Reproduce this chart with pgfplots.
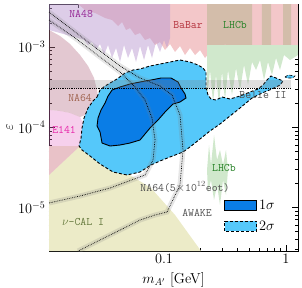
\documentclass[border=0pt]{standalone}
\usepackage{pgfplots}
\pgfplotsset{compat=1.18}
\definecolor{babar}{RGB}{243,199,201}
\definecolor{nafe}{RGB}{187,155,209}
\definecolor{lhcbtan}{RGB}{211,189,170}
\definecolor{lhcbgreen}{RGB}{208,232,204}
\definecolor{nasf}{RGB}{185,118,140}
\definecolor{eoff}{RGB}{230,120,200}
\definecolor{nucal}{RGB}{236,235,200}
\definecolor{onesig}{RGB}{10,125,230}
\definecolor{twosig}{RGB}{85,200,250}
\definecolor{labpurple}{RGB}{150,40,150}
\definecolor{labred}{RGB}{180,50,60}
\definecolor{labgreen}{RGB}{40,130,40}
\definecolor{labbrown}{RGB}{160,100,80}
\definecolor{labmag}{RGB}{230,40,170}
\definecolor{labgray}{RGB}{80,80,80}
\definecolor{labolive}{RGB}{100,120,60}
\begin{document}
\begin{tikzpicture}
\begin{axis}[
  at={(0,0)}, anchor=south west,
  scale only axis, width=249bp, height=247bp,
  xmode=log, ymode=log,
  xmin=0.0114, xmax=1.254, ymin=2.86e-6, ymax=3.437e-3,
  axis line style={line width=0.9bp},
  tick style={line width=0.7bp, black},
  major tick length=6bp, minor tick length=3.5bp,
  tick align=inside,
  xtick={0.1,1}, xticklabels={$0.1$,$1$},
  minor xtick={0.02,0.03,0.04,0.05,0.06,0.07,0.08,0.09,0.2,0.3,0.4,0.5,0.6,0.7,0.8,0.9},
  ytick={1e-5,1e-4,1e-3},
  minor ytick={3e-6,4e-6,5e-6,6e-6,7e-6,8e-6,9e-6,2e-5,3e-5,4e-5,5e-5,6e-5,7e-5,8e-5,9e-5,2e-4,3e-4,4e-4,5e-4,6e-4,7e-4,8e-4,9e-4,2e-3,3e-3},
  tick label style={font=\fontsize{14.5}{16}\selectfont},
  xlabel={$m_{A'}$ [GeV]}, ylabel={$\varepsilon$},
  label style={font=\fontsize{14.5}{16}\selectfont},
  xlabel style={at={(axis description cs:0.5,-0.117)}, anchor=center},
  ylabel style={at={(axis description cs:-0.157,0.5)}, anchor=center},
  legend style={draw=none, fill=none, at={(0.703,0.215)}, anchor=north west,
    row sep=6bp, inner xsep=0bp, inner ysep=0bp,
    font=\fontsize{14.5}{16}\selectfont},
  legend cell align=left,
  legend image code/.code={\draw[#1] (0bp,-5bp) rectangle (32bp,5bp);},
]
% nu-CAL I
\addplot[draw=none, fill=nucal, forget plot] coordinates {
(0.01141,5.828e-5) (0.01973,5.828e-5) (0.02988,4.130e-5) (0.04789,2.763e-5) (0.07823,1.745e-5) (0.1231,8.038e-6) (0.2010,2.86e-6) (0.01141,2.86e-6)} -- cycle;
% E141
\addplot[draw=none, fill=eoff, fill opacity=0.35, forget plot] coordinates {
(0.01141,1.639e-4) (0.01405,1.592e-4) (0.01697,1.503e-4) (0.02049,1.340e-4) (0.02209,1.065e-4) (0.02209,7.995e-5) (0.02049,5.828e-5) (0.01543,3.900e-5) (0.01141,2.535e-5)} -- cycle;
% NA64 existing
\addplot[draw=none, fill=nasf, fill opacity=0.4, forget plot] coordinates {
(0.01141,1.630e-3) (0.01405,1.372e-3) (0.01697,1.090e-3) (0.02049,7.947e-4) (0.02382,5.795e-4) (0.02668,4.106e-4) (0.02823,2.909e-4) (0.02877,2.183e-4) (0.02719,1.735e-4) (0.02382,1.461e-4) (0.02049,1.340e-4) (0.01697,1.503e-4) (0.01405,1.592e-4) (0.01141,1.639e-4)} -- cycle;
% BaBar
\addplot[draw=none, fill=babar, forget plot] coordinates {
(0.01973,3.437e-3) (0.02252,2.892e-3) (0.02719,2.653e-3) (0.03284,2.299e-3) (0.03748,2.171e-3) (0.04198,1.827e-3) (0.04524,2.049e-3) (0.04881,1.630e-3) (0.05263,1.725e-3) (0.05784,1.411e-3) (0.06356,1.495e-3) (0.06986,1.223e-3) (0.07677,1.295e-3) (0.08437,1.059e-3) (0.09273,1.154e-3) (0.1019,9.175e-4) (0.1120,1.090e-3) (0.1231,8.664e-4) (0.1352,1.029e-3) (0.1486,7.947e-4) (0.1633,9.716e-4) (0.1795,7.947e-4) (0.1973,9.175e-4) (0.2168,7.292e-4) (0.2382,8.664e-4) (0.2877,9.175e-4) (0.4198,9.175e-4) (0.5570,7.947e-4) (0.6356,6.886e-4) (0.7393,9.716e-4) (0.8929,7.947e-4) (1.0784,9.175e-4) (1.254,9.175e-4) (1.254,3.437e-3)} -- cycle;
% LHCb prompt (tan)
\addplot[draw=none, fill=lhcbtan, forget plot] coordinates {
(0.2252,3.437e-3) (0.5264,3.437e-3) (0.5264,9.175e-4) (0.4613,1.029e-3) (0.4198,8.664e-4) (0.3819,1.059e-3) (0.3475,9.175e-4) (0.3162,1.090e-3) (0.2877,8.664e-4) (0.2618,1.029e-3) (0.2382,7.947e-4) (0.2252,9.175e-4)} -- cycle;
\addplot[draw=none, fill=lhcbtan, forget plot] coordinates {
(0.6356,3.437e-3) (0.7536,3.437e-3) (0.7536,9.716e-4) (0.6855,8.664e-4) (0.6356,1.0e-3)} -- cycle;
\addplot[draw=none, fill=lhcbtan, forget plot] coordinates {
(0.9450,3.437e-3) (1.099,3.437e-3) (1.099,1.059e-3) (0.9450,9.716e-4)} -- cycle;
% LHCb green spikes
\addplot[draw=none, fill=lhcbgreen, forget plot] coordinates {
(0.2252,1.059e-3) (0.2252,2.183e-4) (0.2382,5.165e-4) (0.2522,2.062e-4) (0.2668,4.477e-4) (0.2823,1.947e-4) (0.2988,4.880e-4) (0.3162,2.183e-4) (0.3346,5.165e-4) (0.3609,2.520e-4) (0.3892,5.470e-4) (0.4198,2.909e-4) (0.4525,5.965e-4) (0.4882,3.359e-4) (0.5264,6.501e-4) (0.5677,5.165e-4) (0.6121,6.886e-4) (0.6601,3.877e-4) (0.7118,6.501e-4) (0.7677,4.477e-4) (0.8279,7.292e-4) (0.8929,5.165e-4) (0.9630,7.947e-4) (1.0784,6.886e-4) (1.254,7.947e-4) (1.254,1.059e-3)} -- cycle;
\addplot[draw=none, fill=lhcbgreen, forget plot] coordinates {
(0.2252,2.926e-5) (0.2338,5.999e-5) (0.2427,3.379e-5) (0.2570,7.995e-5) (0.2719,3.900e-5) (0.2877,5.196e-5) (0.3045,3.379e-5) (0.3221,5.196e-5) (0.3346,2.926e-5) (0.3221,1.428e-5) (0.3045,2.196e-5) (0.2877,1.071e-5) (0.2719,1.902e-5) (0.2570,1.237e-5) (0.2427,2.196e-5) (0.2294,1.556e-5)} -- cycle;
% NA48
\addplot[draw=none, fill=nafe, fill opacity=0.5, forget plot] coordinates {
(0.01141,3.437e-3) (0.1120,3.437e-3) (0.1120,1.295e-3) (0.1058,9.716e-4) (0.1,1.223e-3) (0.09273,8.664e-4) (0.08598,1.154e-3) (0.07970,7.292e-4) (0.07392,1.059e-3) (0.06857,6.886e-4) (0.06356,1.029e-3) (0.05894,6.501e-4) (0.05464,9.716e-4) (0.05068,7.292e-4) (0.04699,1.059e-3) (0.04357,6.501e-4) (0.04042,9.716e-4) (0.03748,7.292e-4) (0.03475,1.059e-3) (0.03222,7.947e-4) (0.02988,1.090e-3) (0.02771,9.175e-4) (0.02569,1.154e-3) (0.02382,1.059e-3) (0.02209,1.223e-3) (0.01973,1.295e-3) (0.01697,1.372e-3) (0.01405,1.495e-3) (0.01141,1.630e-3)} -- cycle;
% 2 sigma
\addplot[draw=black, densely dashed, line width=0.9bp, fill=twosig, forget plot] coordinates {
(0.02823,2.379e-4) (0.02988,2.909e-4) (0.03284,3.264e-4) (0.03609,3.557e-4) (0.04118,3.990e-4) (0.04789,4.741e-4) (0.05569,5.165e-4) (0.06356,5.317e-4) (0.07677,5.795e-4) (0.09273,6.138e-4) (0.1120,6.501e-4) (0.1352,6.886e-4) (0.1633,6.501e-4) (0.1900,5.965e-4) (0.2088,5.470e-4) (0.2210,4.880e-4) (0.2210,3.082e-4) (0.2294,2.520e-4) (0.2427,2.246e-4) (0.2668,2.183e-4) (0.2988,2.379e-4) (0.3475,2.246e-4) (0.4198,2.449e-4) (0.5070,2.747e-4) (0.5895,2.995e-4) (0.6478,3.359e-4) (0.6988,3.877e-4) (0.7536,4.350e-4) (0.8279,4.106e-4) (0.9450,3.767e-4) (0.8929,3.359e-4) (0.7677,2.995e-4) (0.6356,2.669e-4) (0.5264,2.312e-4) (0.4198,1.735e-4) (0.3475,1.379e-4) (0.2877,1.096e-4) (0.2382,8.966e-5) (0.1973,7.127e-5) (0.1633,5.664e-5) (0.1431,4.907e-5) (0.1120,4.251e-5) (0.09273,3.790e-5) (0.07823,3.379e-5) (0.06356,2.763e-5) (0.04974,2.535e-5) (0.03820,2.763e-5) (0.02988,3.477e-5) (0.02474,4.375e-5) (0.02127,5.196e-5) (0.02010,5.828e-5) (0.02088,7.335e-5) (0.02127,9.772e-5) (0.02209,1.302e-4) (0.02382,1.735e-4) (0.02618,2.122e-4)} -- cycle;
\addplot[draw=black, densely dashed, line width=0.6bp, fill=twosig, forget plot] coordinates {
(0.9813,4.226e-4) (1.0421,4.477e-4) (1.185,4.350e-4) (1.132,4.106e-4) (1.020,4.106e-4)} -- cycle;
% 1 sigma
\addplot[draw=black, line width=0.9bp, fill=onesig, forget plot] coordinates {
(0.03475,2.449e-4) (0.03748,2.909e-4) (0.04357,3.171e-4) (0.05263,3.457e-4) (0.06356,3.661e-4) (0.07823,3.877e-4) (0.09449,4.106e-4) (0.1141,4.106e-4) (0.1302,3.661e-4) (0.1378,3.082e-4) (0.1486,2.594e-4) (0.1514,2.312e-4) (0.1352,2.062e-4) (0.1185,1.947e-4) (0.1019,1.547e-4) (0.08928,1.229e-4) (0.07677,9.772e-5) (0.06986,8.228e-5) (0.06356,6.926e-5) (0.05263,6.353e-5) (0.04357,5.999e-5) (0.03609,5.828e-5) (0.03103,6.353e-5) (0.02988,8.713e-5) (0.02823,1.035e-4) (0.02877,1.302e-4) (0.03045,1.639e-4) (0.03284,2.003e-4)} -- cycle;
% Belle II band
\addplot[draw=none, fill=gray, fill opacity=0.25, forget plot] coordinates {
(0.01141,3.082e-4) (1.099,3.082e-4) (1.099,3.877e-4) (0.01141,3.877e-4)} -- cycle;
\addplot[black, densely dotted, line width=0.8bp, forget plot] coordinates {(0.01141,3.082e-4) (1.099,3.082e-4)};
% NA64 5e12 eot projection
\addplot[gray, opacity=0.2, line width=5bp, forget plot] coordinates {
(0.01141,2.171e-3) (0.01865,1.295e-3) (0.02988,7.504e-4) (0.04357,4.880e-4) (0.05784,3.171e-4) (0.06986,2.183e-4) (0.07970,1.302e-4) (0.08437,6.926e-5) (0.08124,3.900e-5) (0.06986,2.535e-5) (0.03609,1.745e-5) (0.02049,1.387e-5) (0.01141,1.135e-5)};
\addplot[black, densely dotted, line width=0.7bp, forget plot] coordinates {
(0.01141,2.171e-3) (0.01865,1.295e-3) (0.02988,7.504e-4) (0.04357,4.880e-4) (0.05784,3.171e-4) (0.06986,2.183e-4) (0.07970,1.302e-4) (0.08437,6.926e-5) (0.08124,3.900e-5) (0.06986,2.535e-5) (0.03609,1.745e-5) (0.02049,1.387e-5) (0.01141,1.135e-5)};
% AWAKE projection
\addplot[gray, opacity=0.2, line width=5bp, forget plot] coordinates {
(0.01141,2.731e-3) (0.01865,1.538e-3) (0.02988,8.915e-4) (0.04357,5.795e-4) (0.06356,4.106e-4) (0.09273,3.264e-4) (0.1163,2.520e-4) (0.1352,1.419e-4) (0.1431,5.196e-5) (0.1352,1.902e-5) (0.1058,8.760e-6) (0.08437,8.038e-6) (0.06356,6.965e-6) (0.03609,4.526e-6) (0.01973,2.86e-6)};
\addplot[black, densely dotted, line width=0.7bp, forget plot] coordinates {
(0.01141,2.731e-3) (0.01865,1.538e-3) (0.02988,8.915e-4) (0.04357,5.795e-4) (0.06356,4.106e-4) (0.09273,3.264e-4) (0.1163,2.520e-4) (0.1352,1.419e-4) (0.1431,5.196e-5) (0.1352,1.902e-5) (0.1058,8.760e-6) (0.08437,8.038e-6) (0.06356,6.965e-6) (0.03609,4.526e-6) (0.01973,2.86e-6)};
% labels
\node[text=labpurple, font=\ttfamily\fontsize{11.5}{13}\selectfont] at (axis cs:0.0209,2.58e-3) {NA48};
\node[text=labred, font=\ttfamily\fontsize{11.5}{13}\selectfont] at (axis cs:0.1573,1.88e-3) {BaBar};
\node[text=labgreen, font=\ttfamily\fontsize{11.5}{13}\selectfont] at (axis cs:0.3819,1.88e-3) {LHCb};
\node[text=labbrown, font=\ttfamily\fontsize{11.5}{13}\selectfont] at (axis cs:0.02049,2.312e-4) {NA64};
\node[text=labmag, font=\ttfamily\fontsize{11.5}{13}\selectfont] at (axis cs:0.01515,9.23e-5) {E141};
\node[text=labgray, font=\ttfamily\fontsize{11.5}{13}\selectfont] at (axis cs:0.6478,2.52e-4) {Belle II};
\node[text=labgreen, font=\ttfamily\fontsize{11.5}{13}\selectfont] at (axis cs:0.3102,3.099e-5) {LHCb};
\node[text=labgray, font=\ttfamily\fontsize{11.5}{13}\selectfont] at (axis cs:0.1486,1.796e-5) {NA64(5$\times$10$^{12}$eot)};
\node[text=labgray, font=\ttfamily\fontsize{11.5}{13}\selectfont] at (axis cs:0.1864,8.51e-6) {AWAKE};
\node[text=labolive, font=\ttfamily\fontsize{11.5}{13}\selectfont] at (axis cs:0.02168,6.58e-6) {$\nu$-CAL I};
% legend
\addlegendimage{draw=black, line width=0.9bp, fill=onesig}
\addlegendentry{$1\sigma$}
\addlegendimage{draw=black, densely dashed, line width=0.9bp, fill=twosig}
\addlegendentry{$2\sigma$}
\end{axis}
\pgfresetboundingbox
\path[use as bounding box] (-49bp,-37bp) rectangle (253bp,251bp);
\end{tikzpicture}
\end{document}
